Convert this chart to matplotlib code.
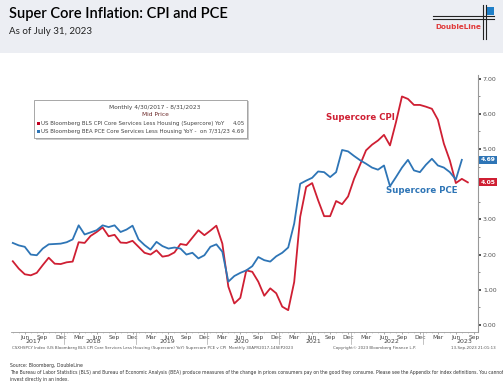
import matplotlib
matplotlib.use("Agg")
import matplotlib.pyplot as plt
import matplotlib.transforms as mtransforms
from matplotlib.patches import Rectangle
from matplotlib.lines import Line2D

# ---------------- data ----------------
start_year, start_month = 2017, 4  # Apr 2017 = index 0
cpi = [1.81, 1.60, 1.44, 1.41, 1.48, 1.70, 1.91, 1.74, 1.73,
       1.78, 1.80, 2.35, 2.33, 2.53, 2.64, 2.77, 2.52, 2.56, 2.34, 2.33, 2.39,
       2.22, 2.05, 2.00, 2.12, 1.94, 1.97, 2.06, 2.30, 2.27, 2.48, 2.69, 2.55,
       2.68, 2.82, 2.31, 1.09, 0.61, 0.77, 1.55, 1.51, 1.23, 0.83, 1.04, 0.90,
       0.52, 0.42, 1.22, 3.07, 3.92, 4.03, 3.54, 3.09, 3.09, 3.52, 3.43, 3.65,
       4.15, 4.55, 4.96, 5.12, 5.24, 5.40, 5.10, 5.76, 6.49, 6.42, 6.25, 6.25,
       6.20, 6.14, 5.83, 5.15, 4.67, 4.03, 4.15, 4.05]
pce = [2.33, 2.26, 2.22, 2.00, 1.98, 2.17, 2.29, 2.30, 2.31,
       2.35, 2.43, 2.83, 2.57, 2.63, 2.69, 2.83, 2.78, 2.83, 2.64, 2.71, 2.82,
       2.43, 2.27, 2.14, 2.36, 2.24, 2.17, 2.20, 2.17, 2.00, 2.05, 1.89, 1.98,
       2.22, 2.29, 2.08, 1.23, 1.39, 1.48, 1.55, 1.67, 1.93, 1.84, 1.80, 1.95,
       2.05, 2.20, 2.88, 4.01, 4.10, 4.18, 4.36, 4.34, 4.20, 4.34, 4.97, 4.93,
       4.80, 4.68, 4.58, 4.47, 4.41, 4.53, 3.94, 4.20, 4.47, 4.69, 4.39, 4.34,
       4.55, 4.72, 4.53, 4.47, 4.34, 4.13, 4.69]
month_names = ["Jan", "Feb", "Mar", "Apr", "May", "Jun", "Jul", "Aug", "Sep", "Oct", "Nov", "Dec"]
years = [2017, 2018, 2019, 2020, 2021, 2022, 2023]
year_label_pos = [3.5, 13.5, 25.8, 38.2, 50.2, 63.2, 75.5]
y_ticks = [0, 1, 2, 3, 4, 5, 6, 7]

RED = "#cf1f33"
BLUE = "#2e75b6"

W, H = 503, 384
fig = plt.figure(figsize=(W / 100, H / 100), dpi=100)
fig.patch.set_facecolor("white")

def fx(px):
    return px / W

def fy(py):
    return 1 - py / H

# header band
fig.patches.append(Rectangle((0, fy(53)), 1, 53 / H, transform=fig.transFigure,
                             facecolor="#eceef3", edgecolor="none", zorder=0))
fig.text(fx(9), fy(14), "Super Core Inflation: CPI and PCE", fontsize=10.5,
         family="Lato", fontweight="semibold", color="black", va="center", ha="left")
fig.text(fx(9), fy(32), "As of July 31, 2023", fontsize=7, family="Lato",
         color="#222222", va="center", ha="left")

# logo
for yy in (16, 19):
    fig.add_artist(Line2D([fx(433), fx(494)], [fy(yy), fy(yy)], color="#222222", lw=0.8,
                          transform=fig.transFigure))
for xx in (483, 486):
    fig.add_artist(Line2D([fx(xx), fx(xx)], [fy(5), fy(39)], color="#222222", lw=0.8,
                          transform=fig.transFigure))
fig.patches.append(Rectangle((fx(487), fy(15)), 7 / W, 8 / H, transform=fig.transFigure,
                             facecolor="#1f7fc8", edgecolor="none"))
fig.text(fx(458), fy(27), "DoubleLine", fontsize=5.2, family="DejaVu Sans", fontweight="bold",
         color="#e03a3a", ha="center", va="center")

# main axes
x0, x1, ytop, ybot = 11, 478, 75, 332
ax = fig.add_axes([fx(x0), fy(ybot), (x1 - x0) / W, (ybot - ytop) / H])
ax.set_facecolor("white")
xc = list(range(len(cpi)))
xp = list(range(len(pce)))
ax.plot(xc, cpi, color=RED, lw=1.3, zorder=3)
ax.plot(xp, pce, color=BLUE, lw=1.3, zorder=3)
ax.set_xlim(-0.3, 77.7)
ax.set_ylim(-0.2, 7.1)

for s in ("left", "top"):
    ax.spines[s].set_visible(False)
ax.spines["right"].set_color("#999999")
ax.spines["right"].set_linewidth(0.8)
ax.spines["bottom"].set_color("#999999")
ax.spines["bottom"].set_linewidth(0.6)

ax.yaxis.tick_right()
ax.set_yticks(y_ticks)
# the 4.00 label is hidden behind the last-value tag in the reference
ax.set_yticklabels(["" if v == 4 else "%.2f" % v for v in y_ticks])
ax.set_yticks([v + 0.5 for v in y_ticks[:-1]], minor=True)
ax.tick_params(axis="y", which="major", direction="out", length=2, width=1.2,
               color="#333333", labelsize=4.5, labelcolor="#555555", pad=1.5)
ax.tick_params(axis="y", which="minor", direction="out", length=1.5, width=0.6, color="#777777")

# month ticks
pos, labs = [], []
for i in range(78):
    m = (start_month - 1 + i) % 12
    if m in (2, 5, 8, 11):
        pos.append(i)
        labs.append(month_names[m])
ax.set_xticks(pos)
ax.set_xticklabels(labs)
ax.set_xticks(range(78), minor=True)
ax.tick_params(axis="x", which="major", direction="out", length=1.5, width=0.5, color="#888888",
               labelsize=4.2, labelcolor="#444444", pad=0.5)
ax.tick_params(axis="x", which="minor", direction="out", length=1.0, width=0.4, color="#aaaaaa")

trans = mtransforms.blended_transform_factory(ax.transData, ax.transAxes)
for yr, p in zip(years, year_label_pos):
    ax.text(p, -9.5 / 257, str(yr), transform=trans, fontsize=4.5, color="#444444",
            ha="center", va="center")
for k in range(7):
    b = 8.5 + 12 * k
    if b < 77.7:
        ax.plot([b, b], [0, -0.045], transform=trans, color="#aaaaaa", lw=0.5, clip_on=False)

# value tags
ytr = mtransforms.blended_transform_factory(ax.transAxes, ax.transData)
ax.text(1.006, pce[-1], "%.2f" % pce[-1], transform=ytr, fontsize=4.3, color="white",
        ha="left", va="center", fontweight="bold",
        bbox=dict(boxstyle="square,pad=0.25", facecolor=BLUE, edgecolor="none"))
ax.text(1.006, cpi[-1], "%.2f" % cpi[-1], transform=ytr, fontsize=4.3, color="white",
        ha="left", va="center", fontweight="bold",
        bbox=dict(boxstyle="square,pad=0.25", facecolor=RED, edgecolor="none"))

# annotations
fig.text(fx(360), fy(117), "Supercore CPI", fontsize=6.2, color=RED, ha="center", va="center",
         fontweight="semibold", family="DejaVu Sans")
fig.text(fx(422), fy(191), "Supercore PCE", fontsize=6.2, color=BLUE, ha="center", va="center",
         fontweight="semibold", family="DejaVu Sans")

# legend box
lx0, ly0, lx1, ly1 = 34, 100, 247, 138
fig.patches.append(Rectangle((fx(lx0 + 1.5), fy(ly1 + 1.5)), (lx1 - lx0) / W, (ly1 - ly0) / H,
                             transform=fig.transFigure, facecolor="#cccccc", edgecolor="none", zorder=5))
fig.patches.append(Rectangle((fx(lx0), fy(ly1)), (lx1 - lx0) / W, (ly1 - ly0) / H,
                             transform=fig.transFigure, facecolor="white", edgecolor="#999999",
                             lw=0.6, zorder=6))
fig.text(fx(155), fy(107), "Monthly 4/30/2017 - 8/31/2023", fontsize=4.2, color="#444444",
         ha="center", va="center", zorder=7)
fig.text(fx(155), fy(115), "Mid Price", fontsize=4.2, color="#6b2a2a", ha="center", va="center", zorder=7)
fig.patches.append(Rectangle((fx(37), fy(125)), 3 / W, 3 / H, transform=fig.transFigure,
                             facecolor="#c00020", edgecolor="none", zorder=7))
fig.patches.append(Rectangle((fx(37), fy(133)), 3 / W, 3 / H, transform=fig.transFigure,
                             facecolor=BLUE, edgecolor="none", zorder=7))
fig.text(fx(41), fy(123.5), "US Bloomberg BLS CPI Core Services Less Housing (Supercore) YoY",
         fontsize=4.0, color="#444444", ha="left", va="center", zorder=7)
fig.text(fx(245), fy(123.5), "%.2f" % cpi[-1], fontsize=4.0, color="#444444",
         ha="right", va="center", zorder=7)
fig.text(fx(41), fy(131.5), "US Bloomberg BEA PCE Core Services Less Housing YoY -  on 7/31/23 %.2f" % pce[-1],
         fontsize=4.0, color="#444444", ha="left", va="center", zorder=7)

# footer
fig.text(fx(12), fy(348), "CSXHSPCY Index (US Bloomberg BLS CPI Core Services Less Housing (Supercore) YoY) "
         "Supercore PCE v CPI  Monthly 30APR2017-14SEP2023", fontsize=2.9, color="#555555",
         ha="left", va="center")
fig.text(fx(333), fy(348), "Copyright\u00a9 2023 Bloomberg Finance L.P.", fontsize=2.9, color="#555555",
         ha="left", va="center")
fig.text(fx(496), fy(348), "13-Sep-2023 21:01:13", fontsize=2.9, color="#555555",
         ha="right", va="center")
fig.text(fx(10), fy(365), "Source: Bloomberg, DoubleLine", fontsize=3.3, color="#333333",
         ha="left", va="center")
fig.text(fx(10), fy(372.5), "The Bureau of Labor Statistics (BLS) and Bureau of Economic Analysis (BEA) produce "
         "measures of the change in prices consumers pay on the good they consume. Please see the Appendix "
         "for index definitions. You cannot", fontsize=3.25, color="#333333", ha="left", va="center")
fig.text(fx(10), fy(379), "invest directly in an index.", fontsize=3.25, color="#333333",
         ha="left", va="center")

fig.savefig("out.png", dpi=100)
